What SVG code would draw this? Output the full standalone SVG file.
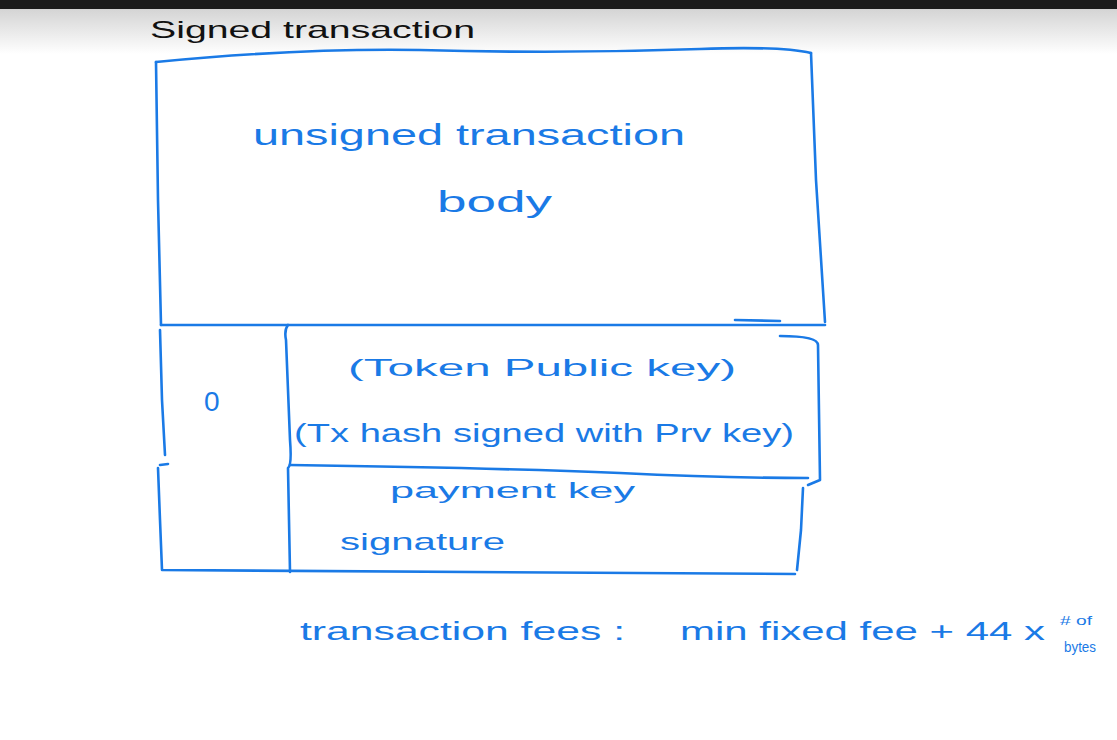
<svg xmlns="http://www.w3.org/2000/svg" width="1117" height="740" viewBox="0 0 1117 740">
<defs>
<linearGradient id="topfade" x1="0" y1="0" x2="0" y2="1">
<stop offset="0" stop-color="#d4d4d4"/>
<stop offset="1" stop-color="#ffffff"/>
</linearGradient>
</defs>
<style>
.ink{fill:none;stroke:#1a7ae6;stroke-width:2.6;stroke-linecap:round;stroke-linejoin:round}
.t{font-family:"Liberation Sans","DejaVu Sans",sans-serif;fill:#1a7ae6}
.k{font-family:"Liberation Sans","DejaVu Sans",sans-serif;fill:#111111}
</style>
<rect x="0" y="0" width="1117" height="740" fill="#ffffff"/>
<rect x="0" y="9" width="1117" height="45" fill="url(#topfade)"/>
<rect x="0" y="0" width="1117" height="9" fill="#1c1c1c"/>
<g id="title">
<text class="k" x="150" y="38" font-size="24" textLength="325" lengthAdjust="spacingAndGlyphs">Signed transaction</text>
</g>
<g id="connectors">
<path class="ink" d="M156,62 Q300,48 420,50 Q560,54 700,49 Q780,46 811,53"/>
<path class="ink" d="M156,62 L158,200 L161,325"/>
<path class="ink" d="M811,53 L816,180 L825,322"/>
<path class="ink" d="M161,325 L825,325"/>
<path class="ink" d="M735,320 L780,321"/>
<path class="ink" d="M160,330 L162,400 L165,455"/>
<path class="ink" d="M160,465 L168,464 M158,468 L160,520 L162,570 L795,574"/>
<path class="ink" d="M288,325 Q284,330 286,340 L290,440 Q292,465 288,468 L289,520 L290,572"/>
<path class="ink" d="M290,465 Q500,468 620,473 Q720,478 808,478"/>
<path class="ink" d="M780,336 Q818,336 818,345 L820,480 L808,485"/>
<path class="ink" d="M803,488 L801,530 L797,570"/>
</g>
<g id="node-body">
<text class="t" x="253" y="145" font-size="30" textLength="432" lengthAdjust="spacingAndGlyphs">unsigned transaction</text>
<text class="t" x="437" y="212" font-size="30" textLength="115" lengthAdjust="spacingAndGlyphs">body</text>
</g>
<g id="node-index">
<text class="t" x="204" y="411" font-size="28">0</text>
</g>
<g id="node-witness">
<text class="t" x="348" y="376" font-size="24" textLength="388" lengthAdjust="spacingAndGlyphs">(Token Public key)</text>
<text class="t" x="294" y="442" font-size="26" textLength="500" lengthAdjust="spacingAndGlyphs">(Tx hash  signed with Prv key)</text>
</g>
<g id="node-signature">
<text class="t" x="390" y="498" font-size="22" textLength="245" lengthAdjust="spacingAndGlyphs">payment key</text>
<text class="t" x="340" y="550" font-size="24" textLength="165" lengthAdjust="spacingAndGlyphs">signature</text>
</g>
<g id="node-fees">
<text class="t" x="300" y="640" font-size="26" textLength="325" lengthAdjust="spacingAndGlyphs">transaction fees :</text>
<text class="t" x="680" y="640" font-size="26" textLength="365" lengthAdjust="spacingAndGlyphs">min fixed fee + 44 x</text>
<text class="t" x="1060" y="625" font-size="13" textLength="32" lengthAdjust="spacingAndGlyphs"># of</text>
<text class="t" x="1064" y="652" font-size="14" textLength="32" lengthAdjust="spacingAndGlyphs">bytes</text>
</g>
</svg>
